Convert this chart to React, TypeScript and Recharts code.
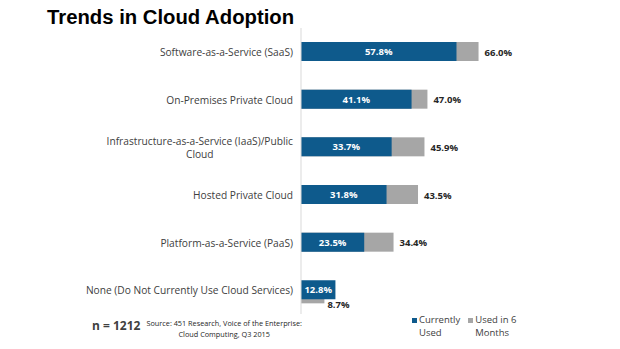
import { Bar, BarChart, LabelList, XAxis, YAxis } from "recharts";

const categories = [
  "Software-as-a-Service (SaaS)",
  "On-Premises Private Cloud",
  "Infrastructure-as-a-Service (IaaS)/Public\nCloud",
  "Hosted Private Cloud",
  "Platform-as-a-Service (PaaS)",
  "None (Do Not Currently Use Cloud Services)",
];
const currentlyUsed = [57.8, 41.1, 33.7, 31.8, 23.5, 12.8];
const usedIn6Months = [66.0, 47.0, 45.9, 43.5, 34.4, 8.7];

const BLUE = "#0E5A8C";
const GRAY = "#A6A6A6";
const FONT = "'Open Sans', 'Noto Sans', sans-serif";

const data = categories.map((name, i) => ({
  name,
  current: currentlyUsed[i],
  future: usedIn6Months[i],
}));

const pct = (v: number) => `${v.toFixed(1)}%`;

let measureCtx: CanvasRenderingContext2D | null = null;
function textWidth(s: string, font: string) {
  if (!measureCtx) measureCtx = document.createElement("canvas").getContext("2d");
  if (!measureCtx) return s.length * 5;
  measureCtx.font = font;
  return measureCtx.measureText(s).width;
}

function CategoryTick({ x, y, payload }: any) {
  const lines = String(payload.value).split("\n");
  const style = { fontFamily: FONT, fontSize: 10.2, fill: "#404040" };
  if (lines.length === 1) {
    return (
      <text x={x} y={y} dy={4} textAnchor="end" style={style}>
        {lines[0]}
      </text>
    );
  }
  const w = textWidth(lines[0], `10.2px ${FONT}`);
  return (
    <g>
      <text x={x} y={y} dy={-2} textAnchor="end" style={style}>
        {lines[0]}
      </text>
      <text x={x - w / 2} y={y} dy={11} textAnchor="middle" style={style}>
        {lines[1]}
      </text>
    </g>
  );
}

// gray bar sits behind the blue one; when it is the shorter one it peeks out below
function FutureShape(props: any) {
  const { x, y, width, height, payload } = props;
  const shift = payload.future < payload.current ? 4 : 0;
  return <rect x={x} y={y + shift} width={width} height={height} fill={GRAY} />;
}

function FutureLabel(props: any) {
  const { x, y, width, height, value, index } = props;
  const below = usedIn6Months[index] < currentlyUsed[index];
  return (
    <text
      x={x + width + (below ? 3 : 6)}
      y={y + height / 2 + (below ? 14 : 0)}
      dy={4}
      style={{ fontFamily: FONT, fontSize: 9.5, fontWeight: 700, fill: "#262626" }}
    >
      {pct(value)}
    </text>
  );
}

function LegendBox() {
  const item = (color: string, l1: string, l2: string) => (
    <div style={{ display: "flex", alignItems: "flex-start", marginRight: 8 }}>
      <span style={{ width: 5, height: 5, background: color, marginTop: 5, marginRight: 2 }} />
      <div style={{ lineHeight: "13px" }}>
        <div>{l1}</div>
        <div>{l2}</div>
      </div>
    </div>
  );
  return (
    <div
      style={{
        position: "absolute",
        left: 412,
        top: 313,
        display: "flex",
        fontFamily: FONT,
        fontSize: 9.5,
        color: "#404040",
      }}
    >
      {item(BLUE, "Currently", "Used")}
      {item(GRAY, "Used in 6", "Months")}
    </div>
  );
}

export default function App() {
  return (
    <div style={{ position: "fixed", left: 0, top: 0, width: 620, height: 349, background: "#fff" }}>
      <div
        style={{
          position: "absolute",
          left: 47,
          top: 4,
          fontFamily: "'Liberation Sans', Arial, sans-serif",
          fontWeight: 700,
          fontSize: 20.3,
          color: "#000",
          lineHeight: "26px",
        }}
      >
        Trends in Cloud Adoption
      </div>
      <BarChart
        width={620}
        height={349}
        data={data}
        layout="vertical"
        margin={{ top: 28, right: 50, bottom: 35, left: 0 }}
        barSize={19}
        barGap={-19}
      >
        <XAxis type="number" domain={[0, 100]} hide />
        <YAxis
          type="category"
          dataKey="name"
          width={301}
          axisLine={{ stroke: "#D9D9D9" }}
          tickLine={false}
          tick={<CategoryTick />}
          interval={0}
        />
        <Bar dataKey="future" name="Used in 6 Months" fill={GRAY} shape={<FutureShape />} isAnimationActive={false}>
          <LabelList dataKey="future" content={<FutureLabel />} />
        </Bar>
        <Bar dataKey="current" name="Currently Used" fill={BLUE} isAnimationActive={false}>
          <LabelList
            dataKey="current"
            position="center"
            formatter={(v: any) => pct(Number(v))}
            style={{ fontFamily: FONT, fontSize: 9.5, fontWeight: 700, fill: "#fff" }}
          />
        </Bar>
      </BarChart>
      <LegendBox />
      <div style={{ position: "absolute", left: 92, top: 318, display: "flex", alignItems: "flex-start", color: "#404040" }}>
        <span style={{ fontFamily: FONT, fontWeight: 700, fontSize: 12, lineHeight: "15px", marginRight: 6 }}>n = 1212</span>
        <div style={{ fontFamily: FONT, fontSize: 7.3, lineHeight: "11px", textAlign: "center", color: "#262626" }}>
          <div>Source: 451 Research, Voice of the Enterprise:</div>
          <div>Cloud Computing, Q3 2015</div>
        </div>
      </div>
    </div>
  );
}
